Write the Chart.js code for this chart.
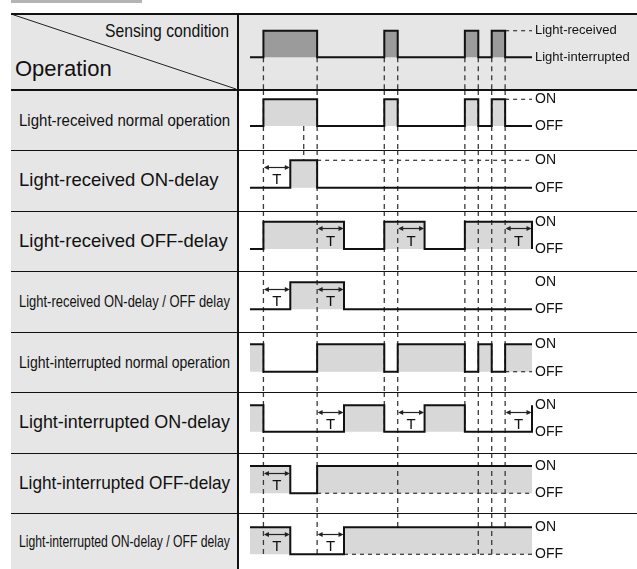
<!DOCTYPE html>
<html>
<head>
<meta charset="utf-8">
<script src="https://cdn.jsdelivr.net/npm/chart.js@4.4.1/dist/chart.umd.min.js"></script>
<style>
  html, body { margin: 0; padding: 0; background: #fff; }
  body { position: relative; width: 637px; height: 569px; overflow: hidden;
         font-family: "Liberation Sans", Arial, sans-serif; color: #111; }
  .box { position: absolute; }
  .lbl { position: absolute; white-space: nowrap; line-height: 1; }
  canvas { position: absolute; z-index: 2; }
  .rule { position: absolute; background: #111; z-index: 3; }
</style>
</head>
<body>
<div class="box" style="left:11px;top:0;width:131px;height:3px;background:#b4b4b4"></div>
<div class="box" style="left:11px;top:14px;width:226px;height:555px;background:#e6e6e6"></div>
<div class="box" style="left:237px;top:14px;width:400px;height:76px;background:#e6e6e6"></div>
<svg class="box" style="left:0;top:0;z-index:1" width="637" height="100">
  <line x1="11" y1="14" x2="236" y2="89" stroke="#222" stroke-width="1"/>
</svg>
<div id="charts"></div>
<div id="labels"></div>
<div id="rules"></div>
<script>
// time axis (one unit ~ half the delay time T)
const timeMax = 21;

// input: sensing condition (1 = light-received, 0 = light-interrupted)
const sensingTimes  = [0, 1, 5, 10, 11, 16, 17, 18, 19, 21];
const sensingLevels = [0, 1, 0, 1, 0, 1, 0, 1, 0, 0];

// outputs (1 = ON, 0 = OFF)
const lrNormalTimes    = [0, 1, 5, 10, 11, 16, 17, 18, 19, 21];
const lrNormalLevels   = [0, 1, 0, 1, 0, 1, 0, 1, 0, 0];
const lrOnDelayTimes   = [0, 3, 5, 21];
const lrOnDelayLevels  = [0, 1, 0, 0];
const lrOffDelayTimes  = [0, 1, 7, 10, 13, 16, 21];
const lrOffDelayLevels = [0, 1, 0, 1, 0, 1, 0];
const lrOnOffTimes     = [0, 3, 7, 21];
const lrOnOffLevels    = [0, 1, 0, 0];
const liNormalTimes    = [0, 1, 5, 10, 11, 16, 17, 18, 19, 21];
const liNormalLevels   = [1, 0, 1, 0, 1, 0, 1, 0, 1, 1];
const liOnDelayTimes   = [0, 1, 7, 10, 13, 16, 21];
const liOnDelayLevels  = [1, 0, 1, 0, 1, 0, 1];
const liOffDelayTimes  = [0, 3, 5, 21];
const liOffDelayLevels = [1, 0, 1, 1];
const liOnOffTimes     = [0, 3, 7, 21];
const liOnOffLevels    = [1, 0, 1, 1];

const operationNames = [
  'Light-received normal operation',
  'Light-received ON-delay',
  'Light-received OFF-delay',
  'Light-received ON-delay / OFF delay',
  'Light-interrupted normal operation',
  'Light-interrupted ON-delay',
  'Light-interrupted OFF-delay',
  'Light-interrupted ON-delay / OFF delay'
];
const sensingStateLabels = ['Light-interrupted', 'Light-received'];
const outputStateLabels = ['OFF', 'ON'];

// dashed continuation of the idle level (row 0 = sensing condition)
const guideFrom  = [19, 19, 5, null, null, 19, null, 5, 7];
const guideLevel = [1, 1, 1, null, null, 0, null, 0, 0];

// delay time T spans per row
const delaySpans = [
  [], [], [[1, 3]], [[5, 7], [11, 13], [19, 21]], [[1, 3], [5, 7]],
  [], [[5, 7], [11, 13], [19, 21]], [[1, 3]], [[1, 3], [5, 7]]
];

// vertical guide marks at input edges
const markTimes   = [1, 5, 10, 11, 16, 17, 18, 19, 4];
const markFromRow = [0, 0, 0, 0, 0, 0, 0, 0, 1];
const markToRow   = [8, 8, 6, 8, 6, 8, 8, 8, 2];
const markToLevel = [0, 0, 0, 1, 0, 0, 0, 1, 1];

// layout
const rowTops = [14, 90, 150, 211, 271, 332, 392, 453, 513];
const pageBottom = 569;
const levelHi = [16.7, 9.3, 10.3, 10.7, 11.3, 12.3, 13.3, 13, 14.3];
const levelLo = [43.3, 36, 37.7, 38, 38.3, 39.7, 39.7, 40.3, 41.3];
const canvasLeft = 239, canvasWidth = 398, plotLeft = 11, plotRight = 293;
const condensedRow = [true, false, false, true, true, false, false, true];

const waves = [
  [sensingTimes, sensingLevels],
  [lrNormalTimes, lrNormalLevels],
  [lrOnDelayTimes, lrOnDelayLevels],
  [lrOffDelayTimes, lrOffDelayLevels],
  [lrOnOffTimes, lrOnOffLevels],
  [liNormalTimes, liNormalLevels],
  [liOnDelayTimes, liOnDelayLevels],
  [liOffDelayTimes, liOffDelayLevels],
  [liOnOffTimes, liOnOffLevels]
];

const FONT = '"Liberation Sans", Arial, sans-serif';

const delayArrows = {
  id: 'delayArrows',
  afterDatasetsDraw(chart, args, opts) {
    const spans = opts.spans || [];
    const { ctx, scales: { x, y } } = chart;
    ctx.save();
    ctx.strokeStyle = '#222';
    ctx.fillStyle = '#222';
    ctx.lineWidth = 1.2;
    spans.forEach(([a, b]) => {
      const x1 = x.getPixelForValue(a), x2 = x.getPixelForValue(b);
      const ya = Math.round(y.getPixelForValue(0.76)) + 0.5;
      ctx.beginPath();
      ctx.moveTo(x1 + 2, ya);
      ctx.lineTo(x2 - 2, ya);
      ctx.stroke();
      ctx.beginPath();
      ctx.moveTo(x1 + 0.5, ya);
      ctx.lineTo(x1 + 5.5, ya - 2.5);
      ctx.lineTo(x1 + 5.5, ya + 2.5);
      ctx.closePath();
      ctx.fill();
      ctx.beginPath();
      ctx.moveTo(x2 - 0.5, ya);
      ctx.lineTo(x2 - 5.5, ya - 2.5);
      ctx.lineTo(x2 - 5.5, ya + 2.5);
      ctx.closePath();
      ctx.fill();
      ctx.font = '15px ' + FONT;
      ctx.textAlign = 'center';
      ctx.textBaseline = 'alphabetic';
      ctx.fillStyle = '#111';
      ctx.fillText('T', (x1 + x2) / 2, y.getPixelForValue(0.32) + 5.4);
      ctx.fillStyle = '#222';
    });
    ctx.restore();
  }
};

function pts(times, levels) {
  return times.map((t, i) => ({ x: t, y: levels[i] }));
}

function drawRow(k) {
  const top = rowTops[k];
  const h = (k + 1 < rowTops.length ? rowTops[k + 1] : pageBottom) - top;
  const amp = levelLo[k] - levelHi[k];
  const yMax = 1 + levelHi[k] / amp;
  const yMin = -(h - levelLo[k]) / amp;

  const cv = document.createElement('canvas');
  cv.width = canvasWidth;
  cv.height = h;
  cv.style.left = canvasLeft + 'px';
  cv.style.top = top + 'px';
  document.getElementById('charts').appendChild(cv);

  const [times, levels] = waves[k];
  const datasets = [{
    data: pts(times, levels),
    stepped: true,
    borderColor: '#111',
    borderWidth: 2,
    fill: { value: 0 },
    backgroundColor: k === 0 ? '#9b9b9b' : '#d8d8d8',
    order: 0
  }];

  if (guideFrom[k] !== null) {
    datasets.push({
      data: [{ x: guideFrom[k], y: guideLevel[k] }, { x: timeMax, y: guideLevel[k] }],
      borderColor: '#333',
      borderWidth: 1.2,
      borderDash: [4, 4],
      fill: false,
      order: 1
    });
  }

  markTimes.forEach((t, i) => {
    if (k < markFromRow[i] || k > markToRow[i]) return;
    const y1 = k === markFromRow[i] ? 0 : yMax;
    const y2 = k === markToRow[i] ? markToLevel[i] : yMin;
    if (y1 === y2) return;
    datasets.push({
      data: [{ x: t, y: y1 }, { x: t, y: y2 }],
      borderColor: '#3a3a3a',
      borderWidth: 1.3,
      borderDash: [5, 4],
      fill: false,
      order: 2
    });
  });

  const stateLabels = k === 0 ? sensingStateLabels : outputStateLabels;

  new Chart(cv.getContext('2d'), {
    type: 'line',
    data: { datasets: datasets },
    plugins: [delayArrows],
    options: {
      responsive: false,
      animation: false,
      devicePixelRatio: 1,
      events: [],
      clip: false,
      layout: { padding: { left: plotLeft, right: 0, top: 0, bottom: 0 } },
      elements: {
        point: { radius: 0, hoverRadius: 0 },
        line: { borderJoinStyle: 'miter', borderCapStyle: 'butt', tension: 0 }
      },
      plugins: {
        legend: { display: false },
        tooltip: { enabled: false },
        filler: { drawTime: 'beforeDatasetsDraw' },
        delayArrows: { spans: delaySpans[k] }
      },
      scales: {
        x: { type: 'linear', min: 0, max: timeMax, display: false },
        y: {
          type: 'linear',
          position: 'right',
          min: yMin,
          max: yMax,
          grid: { display: false, drawTicks: false },
          border: { display: false },
          afterBuildTicks: s => { s.ticks = [{ value: 0 }, { value: 1 }]; },
          afterFit: s => {
            s.width = canvasWidth - plotRight;
            s.paddingTop = 0;
            s.paddingBottom = 0;
          },
          ticks: {
            padding: 3,
            color: '#111',
            autoSkip: false,
            font: { family: FONT, size: k === 0 ? 13 : 14 },
            callback: v => stateLabels[v]
          }
        }
      }
    }
  });
}

for (let k = 0; k < waves.length; k++) drawRow(k);

// left column labels
const labels = document.getElementById('labels');
function addText(text, size, css) {
  const d = document.createElement('div');
  d.className = 'lbl';
  d.textContent = text;
  d.style.fontSize = size + 'px';
  Object.assign(d.style, css);
  labels.appendChild(d);
  return d;
}

operationNames.forEach((name, i) => {
  const k = i + 1;
  const top = rowTops[k];
  const h = (k + 1 < rowTops.length ? rowTops[k + 1] : pageBottom) - top;
  const size = condensedRow[i] ? 17 : 18.5;
  const d = addText(name, size, { left: '19px', top: (top + h / 2 - size / 2) + 'px', transformOrigin: 'left center' });
  const w = d.offsetWidth;
  const s = Math.min(1, 211 / w);
  d.style.transform = 'scaleX(' + s + ')';
});

const sc = addText('Sensing condition', 18.5, { right: (637 - 229) + 'px', top: (38 - 0.8465 * 18.5) + 'px', transformOrigin: 'right center' });
sc.style.transform = 'scaleX(' + (124 / sc.offsetWidth) + ')';
addText('Operation', 22, { left: '15px', top: (77 - 0.8465 * 22) + 'px' });

// table rules
const rules = document.getElementById('rules');
function rule(l, t, w, h) {
  const d = document.createElement('div');
  d.className = 'rule';
  Object.assign(d.style, { left: l + 'px', top: t + 'px', width: w + 'px', height: h + 'px' });
  rules.appendChild(d);
}
rule(11, 13, 626, 2);
rule(11, 89, 626, 2);
rowTops.slice(2).forEach(t => rule(11, t, 626, 1));
rule(237, 13, 2, pageBottom - 13);
</script>
</body>
</html>
